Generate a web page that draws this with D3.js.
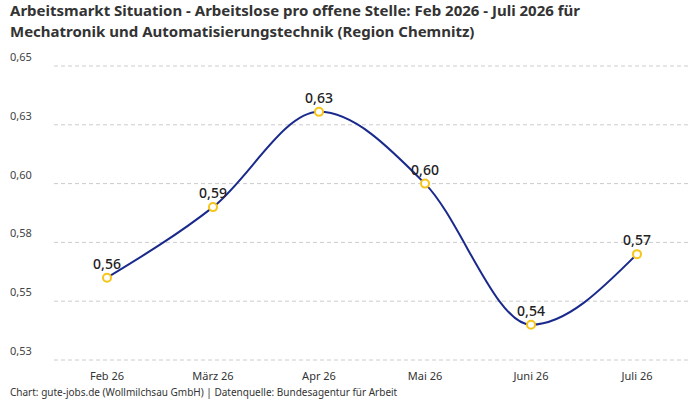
<!DOCTYPE html>
<html><head><meta charset="utf-8">
<script src="https://cdn.jsdelivr.net/npm/d3@7"></script>
<style>body{margin:0;background:#fff;font-family:"Noto Sans",sans-serif}</style>
</head><body><svg id="c" width="700" height="400" font-family="Noto Sans, sans-serif"></svg>
<script>
const categories = ["Feb 26","März 26","Apr 26","Mai 26","Juni 26","Juli 26"];
const values = [0.560,0.590,0.6305,0.600,0.540,0.570];
const valueLabels = ["0,56","0,59","0,63","0,60","0,54","0,57"];
const tickValues = [0.525,0.55,0.575,0.6,0.625,0.65];
const tickLabels = ["0,53","0,55","0,58","0,60","0,63","0,65"];

const svg = d3.select("#c");
const m = {l:54, r:10};
const W=700;
const x = d3.scaleBand().domain(categories).range([m.l, W-m.r]);
const y = d3.scaleLinear().domain([0.525,0.65]).range([360,66]);

svg.append("text").attr("x",10).attr("y",16).attr("font-size",15).attr("font-weight","bold").attr("fill","#333")
  .text("Arbeitsmarkt Situation - Arbeitslose pro offene Stelle: Feb 2026 - Juli 2026 für");
svg.append("text").attr("x",10).attr("y",37).attr("font-size",15).attr("font-weight","bold").attr("fill","#333")
  .text("Mechatronik und Automatisierungstechnik (Region Chemnitz)");

const g = svg.append("g");
tickValues.forEach((t,i)=>{
  g.append("line").attr("x1",m.l).attr("x2",W-m.r).attr("y1",y(t)).attr("y2",y(t))
    .attr("stroke","#ccc").attr("stroke-dasharray","4,3");
  g.append("text").attr("x",10).attr("y",y(t)-5).attr("font-size",11).attr("fill","#444").text(tickLabels[i]);
});
const xa = svg.append("g").attr("transform","translate(0,360)")
  .call(d3.axisBottom(x).tickSize(0).tickPadding(12));
xa.select(".domain").remove();
xa.selectAll("text").attr("font-size",11).attr("fill","#333").attr("font-family","Noto Sans, sans-serif");

const cx = d=>x(d)+x.bandwidth()/2;
const line = d3.line().x((d,i)=>cx(categories[i])).y(d=>y(d)).curve(d3.curveMonotoneX);
svg.append("path").datum(values).attr("d",line).attr("fill","none").attr("stroke","#1a2a8c").attr("stroke-width",2);
svg.selectAll("circle").data(values).join("circle")
  .attr("cx",(d,i)=>cx(categories[i])).attr("cy",d=>y(d)).attr("r",4)
  .attr("fill","#fff").attr("stroke","#f5c518").attr("stroke-width",2);
svg.selectAll(".vl").data(values).join("text")
  .attr("x",(d,i)=>cx(categories[i])).attr("y",d=>y(d)-9).attr("text-anchor","middle")
  .attr("font-size",14).attr("font-weight",500).attr("fill","#222").text((d,i)=>valueLabels[i]);

svg.append("text").attr("x",10).attr("y",396).attr("font-size",10).attr("fill","#333")
  .text("Chart: gute-jobs.de (Wollmilchsau GmbH) | Datenquelle: Bundesagentur für Arbeit");
</script></body></html>
